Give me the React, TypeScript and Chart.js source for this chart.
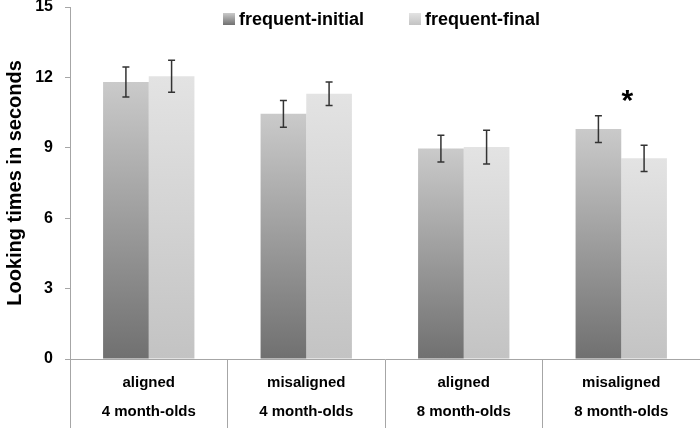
import React, { useEffect, useRef } from 'react';
import { Chart, registerables } from 'chart.js';

Chart.register(...registerables);

const categories: string[][] = [
  ['aligned', '4 month-olds'],
  ['misaligned', '4 month-olds'],
  ['aligned', '8 month-olds'],
  ['misaligned', '8 month-olds'],
];
const seriesNames = ['frequent-initial', 'frequent-final'];
const frequentInitial = [11.8, 10.45, 8.97, 9.8];
const frequentFinal = [12.05, 11.3, 9.03, 8.55];
const errorInitial = [0.64, 0.57, 0.57, 0.57];
const errorFinal = [0.68, 0.5, 0.72, 0.56];
const significance = ['', '', '', '*'];
const yMin = 0;
const yMax = 15;
const yStep = 3;

const FONT = '"Liberation Sans", Arial, sans-serif';
const palettes: [string, string][] = [
  ['#cacaca', '#707070'],
  ['#e3e3e3', '#c3c3c3'],
];
const errors = [errorInitial, errorFinal];

const gradientFill = (top: string, bottom: string) => (ctx: any) => {
  const chart = ctx.chart;
  const area = chart.chartArea;
  const ys = chart.scales && chart.scales.y;
  if (!area || !ys || ctx.type !== 'data') return bottom;
  const v = ctx.raw as number;
  const yTop = ys.getPixelForValue(v);
  const yBase = ys.getPixelForValue(0);
  const g = chart.ctx.createLinearGradient(0, yTop, 0, yBase);
  g.addColorStop(0, top);
  g.addColorStop(1, bottom);
  return g;
};

const errorBarPlugin = {
  id: 'errorBars',
  afterDatasetsDraw(chart: any) {
    const ctx = chart.ctx;
    const ys = chart.scales.y;
    ctx.save();
    ctx.strokeStyle = '#333333';
    ctx.lineWidth = 1.5;
    chart.data.datasets.forEach((ds: any, di: number) => {
      const meta = chart.getDatasetMeta(di);
      meta.data.forEach((bar: any, i: number) => {
        const v = ds.data[i];
        const e = errors[di][i];
        const x = bar.x;
        const y1 = ys.getPixelForValue(v + e);
        const y2 = ys.getPixelForValue(v - e);
        const cap = 3.5;
        ctx.beginPath();
        ctx.moveTo(x, y1);
        ctx.lineTo(x, y2);
        ctx.moveTo(x - cap, y1);
        ctx.lineTo(x + cap, y1);
        ctx.moveTo(x - cap, y2);
        ctx.lineTo(x + cap, y2);
        ctx.stroke();
      });
    });
    // significance marks
    ctx.fillStyle = '#000';
    ctx.font = `bold 30px ${FONT}`;
    ctx.textAlign = 'center';
    ctx.textBaseline = 'alphabetic';
    const xs = chart.scales.x;
    significance.forEach((mark, i) => {
      if (!mark) return;
      let top = -Infinity;
      chart.data.datasets.forEach((ds: any, di: number) => {
        top = Math.max(top, ds.data[i] + errors[di][i]);
      });
      const x = xs.getPixelForValue(i) + 6;
      const y = ys.getPixelForValue(top);
      ctx.fillText(mark, x, y - 6);
    });
    ctx.restore();
  },
};

const legendPlugin = {
  id: 'customLegend',
  afterDraw(chart: any) {
    const ctx = chart.ctx;
    ctx.save();
    ctx.font = `bold 18px ${FONT}`;
    ctx.textBaseline = 'middle';
    ctx.textAlign = 'left';
    let x = 223;
    const yMid = 19;
    seriesNames.forEach((name, i) => {
      const [top, bottom] = palettes[i];
      const g = ctx.createLinearGradient(0, yMid - 6, 0, yMid + 6);
      g.addColorStop(0, top);
      g.addColorStop(1, bottom);
      ctx.fillStyle = g;
      ctx.fillRect(x, yMid - 6, 12, 12);
      ctx.fillStyle = '#000';
      ctx.fillText(name, x + 16, yMid + 1);
      x += 16 + ctx.measureText(name).width + 45;
    });
    ctx.restore();
  },
};

export default function App() {
  const ref = useRef<HTMLCanvasElement | null>(null);
  useEffect(() => {
    document.body.style.margin = '0';
    const canvas = ref.current;
    if (!canvas) return;
    const chart = new Chart(canvas, {
      type: 'bar',
      data: {
        labels: categories,
        datasets: [
          {
            label: seriesNames[0],
            data: frequentInitial,
            backgroundColor: gradientFill(palettes[0][0], palettes[0][1]),
            borderWidth: 0,
          },
          {
            label: seriesNames[1],
            data: frequentFinal,
            backgroundColor: gradientFill(palettes[1][0], palettes[1][1]),
            borderWidth: 0,
          },
        ],
      },
      options: {
        responsive: false,
        animation: false,
        layout: { padding: { top: 7, left: 0, right: 0, bottom: 0 } },
        datasets: { bar: { categoryPercentage: 0.58, barPercentage: 1 } },
        plugins: {
          legend: { display: false },
          tooltip: { enabled: false },
        },
        scales: {
          x: {
            grid: {
              display: true,
              drawOnChartArea: false,
              drawTicks: true,
              tickLength: 69,
              color: '#a6a6a6',
              offset: true,
            },
            border: { display: true, color: '#a6a6a6' },
            ticks: {
              color: '#000',
              font: { family: FONT, size: 15, weight: 'bold', lineHeight: 29 / 15 },
              padding: -59.5,
              maxRotation: 0,
              autoSkip: false,
            },
            afterFit: (s: any) => {
              s.height = 69;
              s.paddingLeft = 0;
              s.paddingRight = 0;
            },
          },
          y: {
            min: yMin,
            max: yMax,
            ticks: {
              stepSize: yStep,
              color: '#000',
              font: { family: FONT, size: 16, weight: 'bold', lineHeight: 0.8 },
              padding: 12,
            },
            grid: {
              drawOnChartArea: false,
              drawTicks: true,
              tickLength: 5,
              color: '#a6a6a6',
            },
            border: { display: true, color: '#a6a6a6' },
            title: {
              display: true,
              text: 'Looking times in seconds',
              color: '#000',
              font: { family: FONT, size: 20, weight: 'bold' },
              padding: { top: 3, bottom: 0 },
            },
            afterFit: (s: any) => {
              s.width = 70;
              s.paddingTop = 0;
              s.paddingBottom = 0;
            },
          },
        },
      },
      plugins: [errorBarPlugin, legendPlugin],
    } as any);
    return () => chart.destroy();
  }, []);
  return (
    <div style={{ position: 'absolute', left: 0, top: 0, width: 700, height: 428 }}>
      <canvas ref={ref} width={700} height={428} style={{ display: 'block' }} />
    </div>
  );
}
